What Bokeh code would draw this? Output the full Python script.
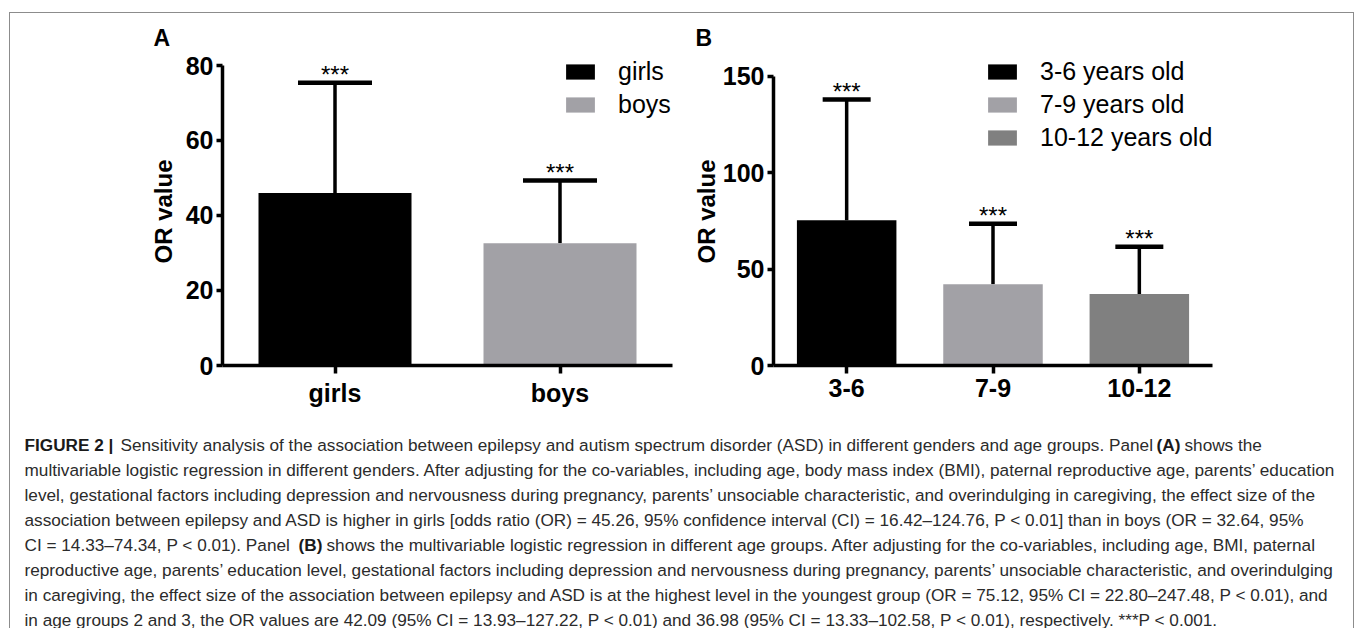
from bokeh.plotting import figure
from bokeh.models import (Range1d, FactorRange, FixedTicker, ColumnDataSource, Whisker,
                          TeeHead, Legend, LegendItem)
from bokeh.layouts import column, row
from bokeh.core.properties import value
from bokeh.embed import file_html
from bokeh.resources import INLINE

# ---------------- data ----------------
sex_groups = ["girls", "boys"]
sex_or = [46.0, 32.6]
sex_upper = [75.4, 49.3]
sex_colors = ["#000000", "#a2a1a6"]
a_ticks = [0, 20, 40, 60, 80]

age_groups = ["3-6", "7-9", "10-12"]
age_legend = ["3-6 years old", "7-9 years old", "10-12 years old"]
age_or = [75.4, 42.2, 37.1]
age_upper = [138.0, 73.5, 61.6]
age_colors = ["#000000", "#a2a1a6", "#808080"]
b_ticks = [0, 50, 100, 150]

stars = "***"
y_label = "OR value"
panel_letters = ["A", "B"]

caption_lines = [
    [("FIGURE 2 |", "bold"), ("Sensitivity analysis of the association between epilepsy and autism spectrum disorder (ASD) in different genders and age groups. Panel", "normal"), ("(A)", "bold"), ("shows the", "normal")],
    [("multivariable logistic regression in different genders. After adjusting for the co-variables, including age, body mass index (BMI), paternal reproductive age, parents\u2019 education", "normal")],
    [("level, gestational factors including depression and nervousness during pregnancy, parents\u2019 unsociable characteristic, and overindulging in caregiving, the effect size of the", "normal")],
    [("association between epilepsy and ASD is higher in girls [odds ratio (OR) = 45.26, 95% confidence interval (CI) = 16.42\u2013124.76, P < 0.01] than in boys (OR = 32.64, 95%", "normal")],
    [("CI = 14.33\u201374.34, P < 0.01). Panel", "normal"), ("(B)", "bold"), ("shows the multivariable logistic regression in different age groups. After adjusting for the co-variables, including age, BMI, paternal", "normal")],
    [("reproductive age, parents\u2019 education level, gestational factors including depression and nervousness during pregnancy, parents\u2019 unsociable characteristic, and overindulging", "normal")],
    [("in caregiving, the effect size of the association between epilepsy and ASD is at the highest level in the youngest group (OR = 75.12, 95% CI = 22.80\u2013247.48, P < 0.01), and", "normal")],
    [("in age groups 2 and 3, the OR values are 42.09 (95% CI = 13.93\u2013127.22, P < 0.01) and 36.98 (95% CI = 13.33\u2013102.58, P < 0.01), respectively. ***P < 0.001.", "normal")],
]
# x start (px) of each text piece inside the caption area
caption_x = [
    [14, 110, 1146, 1174],
    [14], [14], [14],
    [14, 288, 316],
    [14], [14], [14],
]

FONT = "Liberation Sans"
W = 1343


def blank(height):
    f = figure(width=W, height=height, x_range=Range1d(0, W), y_range=Range1d(height, 0),
               toolbar_location=None, output_backend="svg", min_border=0,
               x_axis_location=None, y_axis_location=None)
    f.outline_line_color = None
    f.xgrid.visible = False
    f.ygrid.visible = False
    return f


def make_panel(cats, vals, uppers, colors, legend_labels, ticks, yend, ybound,
               width, height, left, right, top, bottom, tee, legend_loc, label_standoff):
    src = ColumnDataSource(dict(cat=cats, val=vals, upper=uppers, color=colors))
    p = figure(width=width, height=height, x_range=FactorRange(factors=cats, range_padding=0),
               y_range=Range1d(0, yend), toolbar_location=None, output_backend="svg",
               min_border_left=left, min_border_right=right, min_border_top=top,
               min_border_bottom=bottom, background_fill_color="white",
               border_fill_color="white")
    p.outline_line_color = None
    p.xgrid.visible = False
    p.ygrid.visible = False
    r = p.vbar(x="cat", top="val", width=0.68, bottom=0, fill_color="color",
               line_color=None, source=src)
    w = Whisker(source=src, base="cat", lower="val", upper="upper", dimension="height",
                line_width=3.5, line_color="black",
                upper_head=TeeHead(size=tee, line_width=4.5, line_color="black"),
                lower_head=None)
    p.add_layout(w)
    p.text(x="cat", y="upper", text=value(stars), source=src, text_align="center",
           text_baseline="alphabetic", y_offset=-8, text_font=value(FONT),
           text_font_size="24px", text_color="black")

    p.yaxis.ticker = FixedTicker(ticks=ticks)
    p.yaxis.bounds = (0, ybound)
    for ax in (p.xaxis[0], p.yaxis[0]):
        ax.axis_line_width = 3.5
        ax.axis_line_color = "black"
        ax.major_tick_line_width = 3.5
        ax.major_tick_line_color = "black"
        ax.major_tick_in = 0
        ax.minor_tick_line_color = None
        ax.major_label_text_font = FONT
        ax.major_label_text_font_style = "bold"
        ax.major_label_text_font_size = "25px"
        ax.major_label_text_color = "black"
    p.yaxis.major_tick_out = 6
    p.xaxis.major_tick_out = 8
    p.yaxis.major_label_standoff = 3
    p.xaxis.major_label_standoff = 5
    p.yaxis.axis_label = y_label
    p.yaxis.axis_label_text_font = FONT
    p.yaxis.axis_label_text_font_style = "bold"
    p.yaxis.axis_label_text_font_size = "24px"
    p.yaxis.axis_label_text_color = "black"
    p.yaxis.axis_label_standoff = label_standoff

    items = [LegendItem(label=legend_labels[i], renderers=[r], index=i)
             for i in range(len(cats))]
    leg = Legend(items=items, location=legend_loc, orientation="vertical",
                 glyph_width=36, glyph_height=19, label_standoff=20, spacing=4,
                 padding=0, margin=0, border_line_color=None,
                 background_fill_alpha=0, label_text_font=FONT,
                 label_text_font_size="25px", label_text_color="black",
                 label_height=19)
    p.add_layout(leg)
    return p


# strip with the panel letters
strip = blank(38)
strip.text(x=[143, 685], y=[24, 24], text=panel_letters, text_font=value(FONT),
           text_font_size="23px", text_font_style="bold", text_color="black",
           text_baseline="alphabetic")

pA = make_panel(sex_groups, sex_or, sex_upper, sex_colors, sex_groups, a_ticks, 82.13, 80,
                width=671, height=361, left=212, right=9, top=6, bottom=47, tee=74,
                legend_loc=(340, 246), label_standoff=6)
pB = make_panel(age_groups, age_or, age_upper, age_colors, age_legend, b_ticks, 159.8, 150,
                width=672, height=361, left=92, right=141, top=6, bottom=46, tee=48,
                legend_loc=(211, 213), label_standoff=0)

# ---------------- caption ----------------
cap = blank(216)
norm = dict(x=[], y=[], t=[])
bold = dict(x=[], y=[], t=[])
for k, (pieces, xs) in enumerate(zip(caption_lines, caption_x)):
    for (txt, wgt), x0 in zip(pieces, xs):
        d = bold if wgt == "bold" else norm
        d["x"].append(x0)
        d["y"].append(32 + 25 * k)
        d["t"].append(txt)
cap.text(x="x", y="y", text="t", source=ColumnDataSource(norm), text_font=value(FONT),
         text_font_size="17.2px", text_color="#2b2b2b", text_baseline="alphabetic")
cap.text(x="x", y="y", text="t", source=ColumnDataSource(bold), text_font=value(FONT),
         text_font_size="17.2px", text_font_style="bold", text_color="#1a1a1a",
         text_baseline="alphabetic")

layout = column(strip, row(pA, pB), cap, margin=(12, 0, 0, 9),
                styles={"border-top": "1px solid #8c8c8c",
                        "border-left": "1px solid #8c8c8c",
                        "border-right": "1px solid #8c8c8c"})

open("out.html", "w").write(file_html(layout, INLINE))
